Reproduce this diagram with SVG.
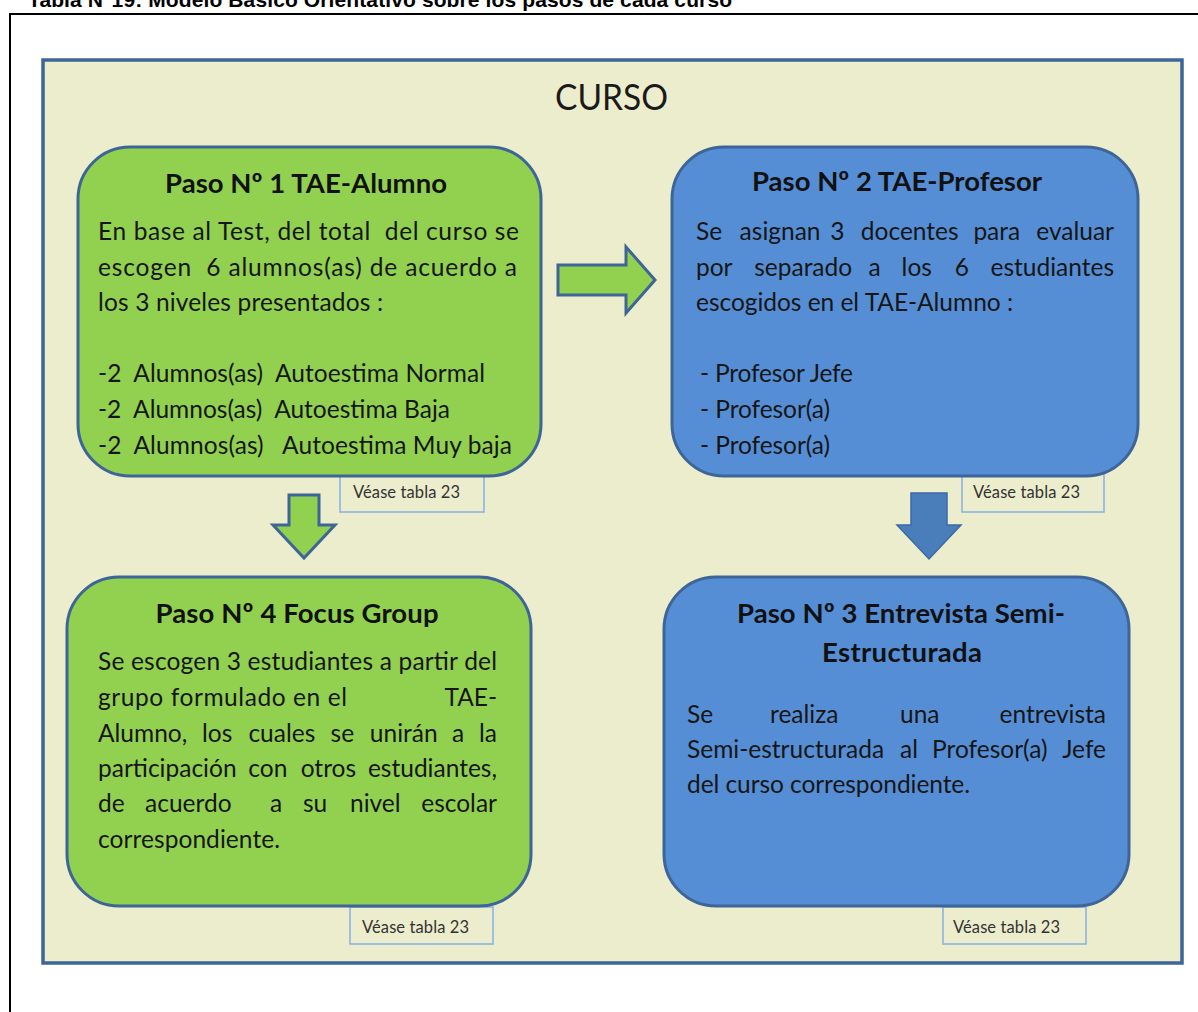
<svg xmlns="http://www.w3.org/2000/svg" width="1198" height="1012" viewBox="0 0 1198 1012">
  <style>
    .cap { font-family: "Liberation Sans", Arial, sans-serif; font-weight: bold; font-size: 21px; fill: #000; }
    .frame { fill: #ecedcc; stroke: #3e6597; stroke-width: 3.5; }
    .green { fill: #92d050; stroke: #3e6597; stroke-width: 3; }
    .blue { fill: #558ed5; stroke: #3e6597; stroke-width: 3; }
    .tag { fill: #ecedcc; stroke: #8db3e2; stroke-width: 1.6; }
    .ttl { font-family: Lato, "Open Sans", sans-serif; font-weight: bold; font-size: 27.5px; fill: #111; text-anchor: middle; }
    .txt { font-family: Lato, "Open Sans", sans-serif; font-size: 24.5px; fill: #161616; }
    .end { text-anchor: end; }
    .lbl { font-family: Lato, "Open Sans", sans-serif; font-size: 16.5px; fill: #333; }
    .head { font-family: Lato, "Open Sans", sans-serif; font-size: 37px; fill: #1a1a1a; }
  </style>

  <!-- table caption and table border -->
  <text class="cap" x="28" y="7" textLength="704">Tabla N°19: Modelo Básico Orientativo sobre los pasos de cada curso</text>
  <path d="M9 14 H1198 M10 14 V1012" fill="none" stroke="#000" stroke-width="2"/>

  <!-- course frame -->
  <g id="curso">
    <rect class="frame" x="43" y="60" width="1139" height="903"/>
    <text class="head" x="555" y="110" textLength="113" lengthAdjust="spacingAndGlyphs">CURSO</text>
  </g>

  <!-- reference tags sit behind the step boxes -->
  <g id="ref1"><rect class="tag" x="340" y="473" width="144" height="39"/><text class="lbl" x="353" y="498" textLength="107">Véase tabla 23</text></g>
  <g id="ref2"><rect class="tag" x="962" y="473" width="142" height="39"/><text class="lbl" x="973" y="498" textLength="107">Véase tabla 23</text></g>
  <g id="ref4"><rect class="tag" x="350" y="907" width="143" height="37"/><text class="lbl" x="362" y="933" textLength="107">Véase tabla 23</text></g>
  <g id="ref3"><rect class="tag" x="943" y="907" width="143" height="37"/><text class="lbl" x="953" y="933" textLength="107">Véase tabla 23</text></g>

  <!-- step 1 -->
  <g id="paso1">
    <rect class="green" x="78" y="147" width="463" height="329" rx="52"/>
    <text class="ttl" x="306" y="193" textLength="282">Paso Nº 1 TAE-Alumno</text>
    <text class="txt" x="98" y="240" textLength="421" xml:space="preserve">En base al Test, del total  del curso se</text>
    <text class="txt" x="98" y="276" textLength="419" xml:space="preserve">escogen  6 alumnos(as) de acuerdo a</text>
    <text class="txt" x="98" y="311" textLength="285">los 3 niveles presentados :</text>
    <text class="txt" x="98" y="382" textLength="387" xml:space="preserve">-2  Alumnos(as)  Autoestima Normal</text>
    <text class="txt" x="98" y="418" textLength="352" xml:space="preserve">-2  Alumnos(as)  Autoestima Baja</text>
    <text class="txt" x="98" y="454" textLength="414" xml:space="preserve">-2  Alumnos(as)   Autoestima Muy baja</text>
  </g>

  <!-- step 2 -->
  <g id="paso2">
    <rect class="blue" x="672" y="147" width="466" height="329" rx="52"/>
    <text class="ttl" x="897" y="191" textLength="290">Paso Nº 2 TAE-Profesor</text>
    <text class="txt" y="240"><tspan x="696">Se</tspan><tspan x="739.6">asignan</tspan><tspan x="830.2">3</tspan><tspan x="860.8">docentes</tspan><tspan x="973.4">para</tspan></text>
    <text class="txt end" x="1114" y="240">evaluar</text>
    <text class="txt" y="276"><tspan x="696">por</tspan><tspan x="754.2">separado</tspan><tspan x="868.4">a</tspan><tspan x="901.6">los</tspan><tspan x="954.8">6</tspan></text>
    <text class="txt end" x="1114" y="276">estudiantes</text>
    <text class="txt" x="696" y="311" textLength="317">escogidos en el TAE-Alumno :</text>
    <text class="txt" x="700" y="382" textLength="153">- Profesor Jefe</text>
    <text class="txt" x="700" y="418" textLength="130">- Profesor(a)</text>
    <text class="txt" x="700" y="454" textLength="130">- Profesor(a)</text>
  </g>

  <!-- step 3 -->
  <g id="paso3">
    <rect class="blue" x="664" y="577" width="465" height="329" rx="52"/>
    <text class="ttl" x="901" y="623" textLength="328">Paso Nº 3 Entrevista Semi-</text>
    <text class="ttl" x="902" y="662" textLength="160">Estructurada</text>
    <text class="txt" y="723"><tspan x="687">Se</tspan><tspan x="770">realiza</tspan><tspan x="900">una</tspan></text>
    <text class="txt end" x="1106" y="723">entrevista</text>
    <text class="txt" y="758"><tspan x="687">Semi-estructurada</tspan><tspan x="900">al</tspan><tspan x="932">Profesor(a)</tspan></text>
    <text class="txt end" x="1106" y="758">Jefe</text>
    <text class="txt" x="687" y="793" textLength="283">del curso correspondiente.</text>
  </g>

  <!-- step 4 -->
  <g id="paso4">
    <rect class="green" x="67" y="577" width="464" height="329" rx="52"/>
    <text class="ttl" x="297" y="623" textLength="283">Paso Nº 4 Focus Group</text>
    <text class="txt" x="98" y="670" textLength="399">Se escogen 3 estudiantes a partir del</text>
    <text class="txt" x="98" y="706" textLength="249">grupo formulado en el</text>
    <text class="txt end" x="497" y="706">TAE-</text>
    <text class="txt" y="742"><tspan x="98">Alumno,</tspan><tspan x="202">los</tspan><tspan x="248.4">cuales</tspan><tspan x="330.6">se</tspan><tspan x="369.8">unirán</tspan><tspan x="452">a</tspan></text>
    <text class="txt end" x="497" y="742">la</text>
    <text class="txt" y="777"><tspan x="98">participación</tspan><tspan x="248.3">con</tspan><tspan x="300.7">otros</tspan></text>
    <text class="txt end" x="497" y="777">estudiantes,</text>
    <text class="txt" y="812"><tspan x="98">de</tspan><tspan x="145">acuerdo</tspan><tspan x="270">a</tspan><tspan x="303">su</tspan><tspan x="350">nivel</tspan></text>
    <text class="txt end" x="497" y="812">escolar</text>
    <text class="txt" x="98" y="848" textLength="182">correspondiente.</text>
  </g>

  <!-- block arrows between steps -->
  <g id="connectors">
    <polygon class="green" points="558,265 626,265 626,247 655,280 626,313 626,295 558,295"/>
    <polygon class="green" points="289,495 319,495 319,525 335,525 304,558 273,525 289,525"/>
    <polygon points="911,493 947,493 947,525 961,525 929,559 897,525 911,525" fill="#4a7ebb" stroke="#3a6aa5" stroke-width="1.5"/>
  </g>
</svg>
